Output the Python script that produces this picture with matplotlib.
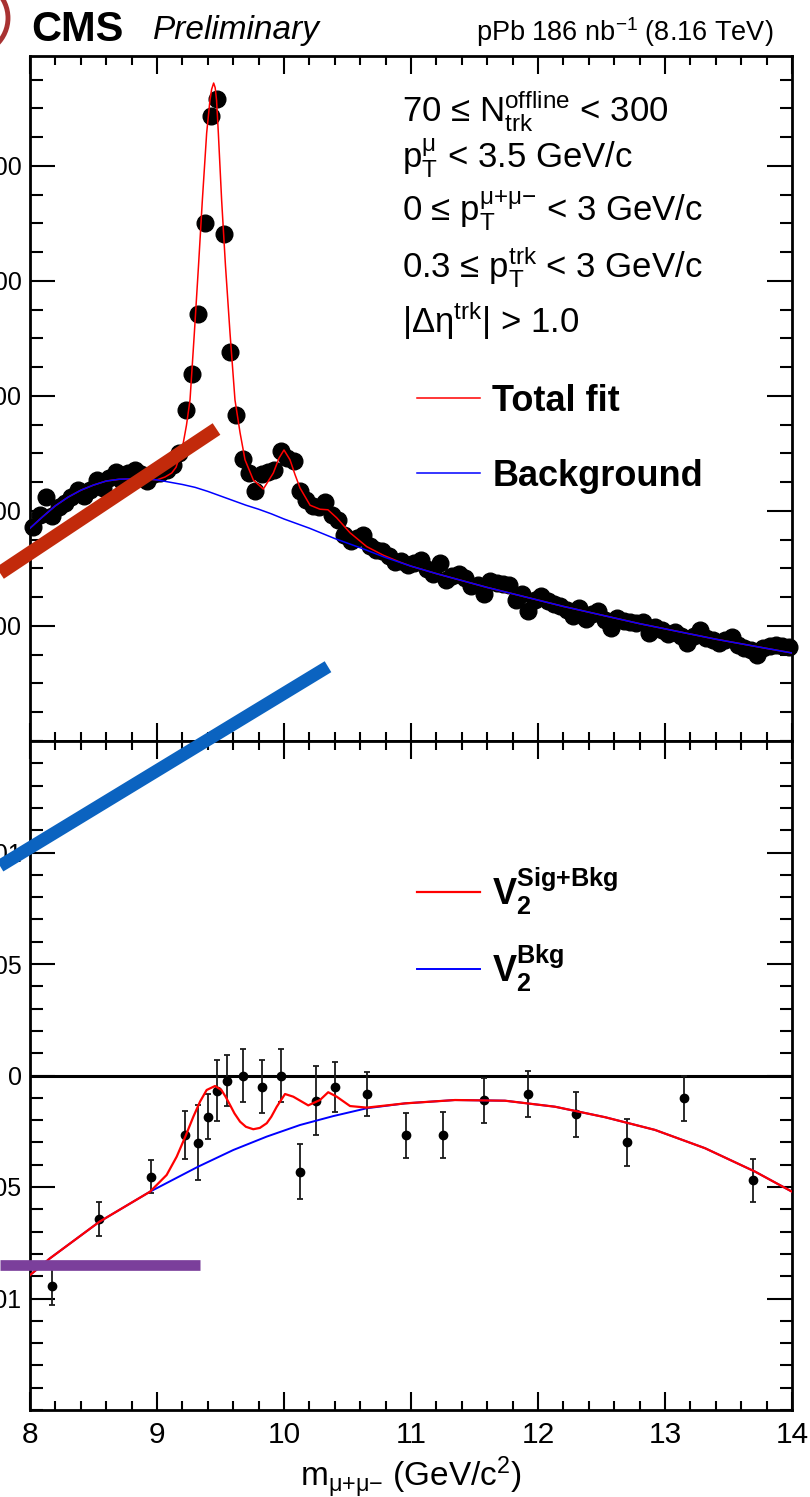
import numpy as np
import matplotlib
matplotlib.use('Agg')
import matplotlib.pyplot as plt
from matplotlib.lines import Line2D
from matplotlib.patches import Ellipse
from matplotlib.ticker import MultipleLocator, FixedLocator, FixedFormatter
from matplotlib.transforms import Affine2D

plt.rcParams['font.family'] = ['Liberation Sans', 'DejaVu Sans']
plt.rcParams['mathtext.fontset'] = 'custom'
plt.rcParams['mathtext.rm'] = 'Liberation Sans'
plt.rcParams['mathtext.it'] = 'Liberation Sans:italic'
plt.rcParams['mathtext.bf'] = 'Liberation Sans:bold'
plt.rcParams['mathtext.default'] = 'regular'

# ---- top panel: dimuon mass spectrum (50 MeV bins, 8-14 GeV)
bin_edges = np.linspace(8.0, 14.0, 121)
counts = [572, 593, 624, 591, 607, 614, 624, 636, 626, 636,
          654, 640, 657, 668, 652, 666, 671, 664, 652, 664,
          666, 671, 680, 701, 775, 838, 942, 1100, 1286, 1316,
          1081, 876, 767, 690, 666, 635, 664, 668, 671, 704,
          692, 687, 635, 619, 609, 607, 615, 593, 584, 558,
          548, 553, 558, 539, 532, 530, 522, 511, 513, 506,
          509, 515, 499, 490, 509, 480, 487, 490, 483, 470,
          471, 456, 478, 475, 473, 471, 445, 456, 426, 445,
          452, 443, 438, 435, 428, 417, 431, 412, 421, 426,
          410, 397, 414, 409, 407, 405, 407, 388, 398, 393,
          386, 390, 383, 370, 383, 393, 379, 376, 370, 376,
          381, 367, 362, 358, 350, 362, 365, 367, 365, 363]

bkg_mass = [8.0, 8.1, 8.2, 8.3, 8.4, 8.5, 8.6, 8.7, 8.8, 8.9,
            9.0, 9.1, 9.2, 9.3, 9.4, 9.5, 9.6, 9.7, 9.8, 9.9,
            10.0, 10.2, 10.4, 10.6, 10.8, 11.0, 11.2, 11.4, 11.6, 11.8,
            12.0, 12.2, 12.4, 12.6, 12.8, 13.0, 13.2, 13.4, 13.6, 13.8, 14.0]
bkg_fit = [570, 590, 609, 624, 636, 645, 652, 655, 656, 656,
           654, 650, 646, 641, 634, 626, 618, 610, 603, 595,
           586, 570, 552, 536, 519, 504, 491, 479, 467, 456,
           445, 434, 424, 414, 404, 395, 386, 377, 369, 361, 353]

total_mass = [8.0, 8.1, 8.2, 8.3, 8.4, 8.5, 8.6, 8.7, 8.8, 8.9,
              9.0, 9.063, 9.116, 9.150, 9.181, 9.205, 9.232, 9.260, 9.294, 9.327,
              9.357, 9.391, 9.417, 9.430, 9.446, 9.458, 9.469, 9.483, 9.509, 9.539,
              9.575, 9.614, 9.654, 9.693, 9.758, 9.837, 9.916, 9.961, 10.0, 10.047,
              10.087, 10.126, 10.205, 10.283, 10.346, 10.415, 10.520, 10.651, 10.782, 10.913,
              11.0, 11.2, 11.4, 11.6, 11.8, 12.0, 12.2, 12.4, 12.6, 12.8,
              13.0, 13.2, 13.4, 13.6, 13.8, 14.0]
total_fit = [570, 590, 609, 624, 636, 645, 652, 655, 656, 656,
             654, 659, 666, 676, 697, 716, 749, 793, 909, 1027,
             1140, 1257, 1314, 1333, 1344, 1336, 1314, 1257, 1140, 1027,
             909, 793, 736, 689, 654, 638, 666, 692, 706, 689,
             663, 640, 610, 603, 602, 588, 562, 538, 523, 511,
             504, 491, 479, 467, 456, 445, 434, 424, 414, 404,
             395, 386, 377, 369, 361, 353]

# ---- bottom panel: v2 vs mass
v2_mass = [8.176, 8.546, 8.950, 9.223, 9.323, 9.399, 9.472, 9.551, 9.677, 9.827,
           9.976, 10.126, 10.250, 10.399, 10.651, 10.958, 11.250, 11.572, 11.924, 12.297,
           12.698, 13.150, 13.695]
v2_vals = [-0.00944, -0.00645, -0.00454, -0.00267, -0.00301, -0.00185, -0.00068, -0.00023, 0.0, -0.00050,
           0.0, -0.00431, -0.00113, -0.00050, -0.00084, -0.00267, -0.00267, -0.00111, -0.00084, -0.00173,
           -0.00300, -0.00102, -0.00470]
v2_errs = [0.00085, 0.00076, 0.00073, 0.00109, 0.00167, 0.00101, 0.00137, 0.00114, 0.00118, 0.00120,
           0.00118, 0.00124, 0.00155, 0.00112, 0.00098, 0.00101, 0.00104, 0.00102, 0.00102, 0.00101,
           0.00105, 0.00100, 0.00096]

v2bkg_mass = [8.0, 8.157, 8.546, 8.945, 9.323, 9.601, 9.864, 10.126, 10.388, 10.651,
              10.953, 11.346, 11.740, 12.134, 12.528, 12.921, 13.315, 13.709, 14.0]
v2bkg_fit = [-0.00895, -0.00820, -0.00656, -0.00521, -0.00409, -0.00334, -0.00274, -0.00222, -0.00182, -0.00147,
             -0.00125, -0.00110, -0.00113, -0.00140, -0.00187, -0.00244, -0.00326, -0.00431, -0.00521]

v2tot_mass = [8.0, 8.157, 8.546, 8.945, 9.076, 9.155, 9.223, 9.286, 9.339, 9.391,
              9.457, 9.507, 9.540, 9.575, 9.610, 9.654, 9.700, 9.758, 9.810, 9.864,
              9.900, 9.943, 10.008, 10.073, 10.191, 10.283, 10.348, 10.415, 10.520, 10.651,
              10.953, 11.346, 11.740, 12.134, 12.528, 12.921, 13.315, 13.709, 14.0]
v2tot_fit = [-0.00895, -0.00820, -0.00656, -0.00521, -0.00446, -0.00364, -0.00274, -0.00185, -0.00117, -0.00065,
             -0.00047, -0.00065, -0.00095, -0.00132, -0.00170, -0.00207, -0.00230, -0.00241, -0.00235, -0.00214,
             -0.00185, -0.00140, -0.00083, -0.00095, -0.00134, -0.00110, -0.00075, -0.00095, -0.00137, -0.00144,
             -0.00125, -0.00110, -0.00113, -0.00140, -0.00187, -0.00244, -0.00326, -0.00431, -0.00521]

v2_ticks = [-0.01, -0.005, 0.0, 0.005, 0.01]
v2_ticklabels = ['-0.01', '-0.005', '0', '0.005', '0.01']
count_ticks = [400, 600, 800, 1000, 1200]

W, H = 810, 1497
fig = plt.figure(figsize=(W / 100, H / 100), dpi=100)
px = Affine2D().scale(1.0 / W, -1.0 / H).translate(0, 1) + fig.transFigure


def box(l, t, r, b):
    return [l / W, 1 - b / H, (r - l) / W, (b - t) / H]


ax1 = fig.add_axes(box(30, 56, 792, 741))
ax2 = fig.add_axes(box(30, 741, 792, 1410))

centers = 0.5 * (bin_edges[:-1] + bin_edges[1:])
ax1.plot(centers, counts, 'o', color='black', ms=12, clip_on=False, zorder=2)
ax1.plot(total_mass, total_fit, color='red', lw=1.1, zorder=3, label='Total fit')
ax1.plot(bkg_mass, bkg_fit, color='blue', lw=1.1, zorder=4, label='Background')
ax1.set_xlim(8, 14)
ax1.set_ylim(200, 1391)
ax1.yaxis.set_major_locator(FixedLocator(count_ticks))
ax1.yaxis.set_minor_locator(MultipleLocator(50))
ax1.legend(loc='upper left', bbox_to_anchor=(0.5075, 0.521), frameon=False,
           prop={'weight': 'bold', 'size': 26}, handlelength=1.75, handletextpad=0.34,
           labelspacing=1.1, borderpad=0, borderaxespad=0)

ax2.axhline(0, color='black', lw=2.2, zorder=1)
ax2.errorbar(v2_mass, v2_vals, yerr=v2_errs, fmt='o', color='black', ecolor='#1a1a1a',
             ms=6, elinewidth=1.3, capsize=2.5, capthick=1.3, zorder=3)
ax2.plot(v2tot_mass, v2tot_fit, color='red', lw=1.6, zorder=5, label=r'$\mathbf{V_2^{Sig{+}Bkg}}$')
ax2.plot(v2bkg_mass, v2bkg_fit, color='blue', lw=1.4, zorder=4, label=r'$\mathbf{V_2^{Bkg}}$')
ax2.set_xlim(8, 14)
ax2.set_ylim(-0.015, 0.015)
ax2.yaxis.set_major_locator(FixedLocator(v2_ticks))
ax2.yaxis.set_major_formatter(FixedFormatter(v2_ticklabels))
ax2.yaxis.set_minor_locator(MultipleLocator(0.001))
handles, labels = ax2.get_legend_handles_labels()
ax2.legend([handles[0], handles[1]], [labels[0], labels[1]], loc='upper left',
           bbox_to_anchor=(0.5075, 0.814), frameon=False, prop={'size': 26},
           handlelength=1.75, handletextpad=0.34, labelspacing=0.7, borderpad=0, borderaxespad=0)
ax2.set_xlabel('m$_{μ{+}μ{-}}$ (GeV/c$^{2}$)', fontsize=24, labelpad=4)

for ax in (ax1, ax2):
    ax.xaxis.set_major_locator(MultipleLocator(1))
    ax.xaxis.set_minor_locator(MultipleLocator(0.2))
    ax.tick_params(which='both', direction='in', top=True, right=True, width=1.5)
    ax.tick_params(axis='x', which='major', length=13)
    ax.tick_params(axis='x', which='minor', length=6.5)
    ax.tick_params(axis='y', which='major', length=18, labelsize=18, pad=6)
    ax.tick_params(axis='y', which='minor', length=9)
    for s in ax.spines.values():
        s.set_linewidth(2)
ax1.tick_params(labelbottom=False)
ax2.tick_params(axis='x', labelsize=21.5, pad=8)

# header and selection text
fig.text(31, 40.7, 'CMS', fontsize=30, fontweight='bold', va='baseline', transform=px)
fig.text(153, 39.3, 'Preliminary', fontsize=24, style='italic', va='baseline', transform=px)
fig.text(773, 41, 'pPb 186 nb$^{-1}$ (8.16 TeV)', fontsize=19.5, ha='right', va='baseline', transform=px)

sel_lines = ['70 ≤ N$_{trk}^{offline}$ < 300',
             'p$_{T}^{μ}$ < 3.5 GeV/c',
             '0 ≤ p$_{T}^{μ{+}μ{-}}$ < 3 GeV/c',
             '0.3 ≤ p$_{T}^{trk}$ < 3 GeV/c',
             '|Δη$^{trk}$| > 1.0']
sel_base = [121.7, 168.3, 221.7, 277.3, 333.3]
for txt, yb in zip(sel_lines, sel_base):
    fig.text(402, yb, txt, fontsize=25, va='baseline', transform=px)

# hand-drawn highlighter strokes on top of the figure
strokes = [((0, 573), (216.5, 429), '#c22a0b', 10),
           ((0, 866), (328, 666.7), '#0b63c0', 9.2),
           ((0, 1265.3), (200, 1265.3), '#7b3f9b', 7.7)]
for (x0, y0), (x1, y1), c, lw in strokes:
    fig.add_artist(Line2D([x0, x1], [y0, y1], color=c, lw=lw, solid_capstyle='butt',
                          transform=px, zorder=20))
fig.add_artist(Ellipse((-32, 18), 80, 76, transform=px, fill=False,
                       edgecolor='#a83232', lw=3.5, zorder=20))

fig.savefig('out.png', dpi=100)
